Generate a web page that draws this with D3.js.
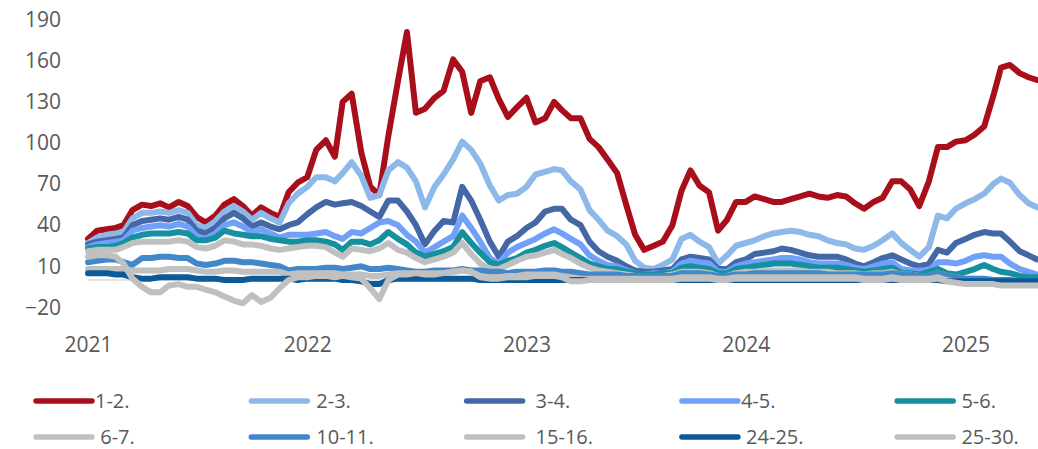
<!DOCTYPE html>
<html>
<head>
<meta charset="utf-8">
<script src="https://cdn.jsdelivr.net/npm/d3@7"></script>
<style>
  body { margin: 0; background: #fff; }
  text { font-family: "Open Sans", sans-serif; fill: #595959; }
</style>
</head>
<body>
<div id="chart"></div>
<script>

// half-month observations, Jan 2021 .. end of Apr 2025
var dates = [];
d3.utcMonth.range(new Date(Date.UTC(2021, 0, 1)), new Date(Date.UTC(2025, 4, 1))).forEach(function(m) {
  dates.push(m);
  dates.push(new Date(Date.UTC(m.getUTCFullYear(), m.getUTCMonth(), 16)));
});
dates.push(new Date(Date.UTC(2025, 3, 30)));

var s12 = [30,36,37,38,40,51,55,54,56,53, 57,54,46,42,47,55,59,54,47,53,
  49,46,64,71,75,95,102,90,130,136, 93,68,62,105,145,181,122,125,133,138,
  161,152,122,145,148,132,119,126,133,115, 118,130,124,118,118,103,97,88,78,55,
  33,22,25,28,40,65,80,69,64,36, 44,57,57,61,59,57,57,59,61,63,
  61,60,62,61,56,52,57,60,72,72, 66,54,72,97,97,101,102,106,112,134,
  155,157,151,148,146];

var s23 = [27,31,33,34,35,45,49,49,50,49, 51,49,40,38,43,50,54,50,44,49,
  45,42,56,63,68,75,75,72,78,86, 76,60,62,80,86,82,72,53,68,77,
  88,101,95,85,69,58,62,63,68,77, 79,81,80,72,66,51,44,36,32,26,
  14,9,8,11,15,30,33,28,24,12, 18,25,27,29,32,34,35,36,35,33,
  32,29,27,26,23,22,25,29,34,27, 22,17,24,47,45,52,56,59,63,70,
  74,71,62,56,53];

var s34 = [26,28,29,30,31,40,43,44,45,44, 46,44,36,34,38,45,49,45,39,42,
  39,37,40,42,48,53,57,55,56,57, 54,50,46,58,58,50,40,26,36,43,
  42,68,58,44,28,17,28,32,38,42, 50,52,52,44,40,28,21,17,14,10,
  7,6,6,7,8,15,17,16,15,8, 8,13,15,19,20,21,23,22,20,18,
  17,17,17,15,12,10,13,16,18,15, 12,10,12,22,20,27,30,33,35,34,
  34,28,21,18,15];

var s45 = [24,26,27,28,29,36,38,39,40,39, 41,39,32,30,34,40,42,39,35,37,
  34,31,33,33,33,34,35,32,30,35, 34,38,42,43,40,33,28,20,24,28,
  32,47,38,28,16,12,20,24,27,30, 34,37,34,30,26,18,14,11,10,7,
  5,4,5,5,6,12,14,13,12,6, 6,10,12,13,14,15,16,16,15,13,
  12,12,12,11,9,8,10,12,13,8, 7,7,7,13,13,12,14,17,18,17,
  17,12,8,6,4];

var s56 = [23,24,24,25,27,31,33,34,34,34, 35,34,29,29,31,36,34,33,32,32,
  30,29,28,28,29,29,28,26,22,28, 28,26,29,35,30,26,20,17,19,21,
  24,35,27,20,13,11,14,16,20,22, 25,27,24,20,16,12,10,8,8,6,
  5,4,4,5,5,9,10,9,8,5, 5,8,9,10,11,12,12,12,11,10,
  9,9,9,8,7,6,7,8,9,5, 5,4,6,8,5,4,6,8,11,8,
  6,5,3,2,2];

var s67 = [21,22,22,22,24,27,28,28,28,28, 29,28,24,23,25,29,28,26,26,25,
  23,22,23,24,25,25,24,20,17,23, 22,21,23,27,22,20,16,13,15,17,
  20,27,19,12,8,8,11,14,17,18, 20,22,19,16,12,9,7,6,5,4,
  3,3,3,3,4,6,6,6,5,3, 3,5,6,6,7,7,7,7,7,6,
  6,6,5,5,5,4,5,5,6,4, 4,3,3,5,3,2,1,1,0,0,
  -1,-1,-2,-2,-2];

var s1011 = [13,14,15,15,13,11,16,16,17,17, 16,16,12,11,12,14,14,13,13,12,
  11,10,7,8,8,8,9,9,8,9, 10,8,8,9,8,7,6,6,7,7,
  7,8,7,7,6,6,5,6,6,6, 7,7,6,6,5,4,4,4,4,3,
  3,3,3,3,3,5,5,5,4,3, 3,4,4,5,5,5,5,5,5,5,
  5,4,4,4,4,4,4,4,5,4, 4,3,3,5,3,2,1,1,1,0,
  0,0,-1,-1,-1];

var s1516 = [8,8,8,8,8,7,7,7,7,8, 8,8,7,6,6,7,7,6,6,6,
  6,6,4,5,5,5,5,5,4,4, 4,3,3,4,5,5,5,5,5,5,
  6,7,6,3,2,2,3,3,4,4, 4,4,3,2,1,1,1,1,1,1,
  1,1,1,1,1,2,2,2,2,1, 1,2,2,2,2,2,2,2,2,2,
  2,2,2,2,2,1,1,1,2,1, 1,1,1,2,0,-1,-2,-2,-2,-3,
  -3,-3,-3,-3,-3];

var s2425 = [5,5,5,4,4,2,1,1,2,2, 2,2,1,1,1,0,0,0,1,1,
  1,1,1,0,1,1,1,1,0,0, -1,-3,-3,0,1,1,1,1,1,1,
  1,1,1,0,0,0,0,0,0,0, 0,0,0,0,0,0,0,0,0,0,
  0,0,0,0,0,0,0,0,0,0, 0,0,0,0,0,0,0,0,0,0,
  0,0,0,0,0,0,0,0,0,0, 0,0,0,0,-1,-1,-1,-1,-1,-1,
  -1,-1,-1,-1,-1];

var s2530 = [17,18,18,17,12,1,-5,-9,-9,-4, -3,-5,-5,-7,-9,-12,-15,-17,-11,-16,
  -13,-6,0,2,2,3,3,2,3,2, 1,-6,-14,0,4,4,5,4,4,5,
  6,7,6,2,1,1,2,2,2,3, 3,3,2,-1,-1,0,0,0,0,0,
  0,0,0,0,0,1,1,1,1,0, 0,1,1,1,1,1,1,1,1,1,
  1,1,1,1,1,0,0,0,1,0, 0,0,0,1,-1,-2,-3,-3,-3,-3,
  -4,-4,-4,-4,-4];

var seriesNames = ["1-2.", "2-3.", "3-4.", "4-5.", " 5-6.", " 6-7.", "10-11.", "15-16.", " 24-25.", " 25-30."];
var seriesValues = [s12, s23, s34, s45, s56, s67, s1011, s1516, s2425, s2530];
var colors = ["#a90f1a", "#8db8ea", "#4468a5", "#70a0f8", "#14909e", "#c0c0c0", "#4287c9", "#c0c0c0", "#0b5a9a", "#c0c0c0"];

var yTicks = [-20, 10, 40, 70, 100, 130, 160, 190];
var yearTicks = [2021, 2022, 2023, 2024, 2025];

var width = 1038;
var height = 449;

var x = d3.scaleUtc()
  .domain([new Date(Date.UTC(2021, 0, 1)), new Date(Date.UTC(2025, 3, 30))])
  .range([88, 1037]);

var y = d3.scaleLinear()
  .domain([-20, 190])
  .range([307.4, 19.7]);

var svg = d3.select("#chart").append("svg")
  .attr("width", width)
  .attr("height", height);

// zero line
svg.append("line")
  .attr("x1", x.range()[0])
  .attr("x2", x.range()[1])
  .attr("y1", y(0))
  .attr("y2", y(0))
  .attr("stroke", "#d9d9d9")
  .attr("stroke-width", 1.5);

var yAxis = svg.append("g")
  .attr("transform", "translate(64,0)")
  .call(d3.axisLeft(y).tickValues(yTicks).tickSize(0).tickPadding(3));
yAxis.select(".domain").remove();
yAxis.selectAll("text").style("font-size", "21px").attr("fill", "#595959");

var xAxis = svg.append("g")
  .attr("transform", "translate(0,337)")
  .call(d3.axisBottom(x)
    .tickValues(yearTicks.map(function(yr) { return new Date(Date.UTC(yr, 0, 1)); }))
    .tickFormat(d3.utcFormat("%Y"))
    .tickSize(0).tickPadding(0));
xAxis.select(".domain").remove();
xAxis.selectAll("text").style("font-size", "21px").attr("fill", "#595959");

var line = d3.line()
  .x(function(d, i) { return x(dates[i]); })
  .y(function(d) { return y(d); });

svg.append("g")
  .selectAll("path")
  .data(seriesValues)
  .enter().append("path")
  .attr("d", function(d) { return line(d); })
  .attr("fill", "none")
  .attr("stroke", function(d, i) { return colors[i]; })
  .attr("stroke-width", 6)
  .attr("stroke-linejoin", "round")
  .attr("stroke-linecap", "round");

// legend, 5 columns x 2 rows
var legendCols = 5;
var colGap = [3, 9, 13, 3, 3];
var legend = svg.append("g").selectAll("g")
  .data(seriesNames)
  .enter().append("g")
  .attr("transform", function(d, i) {
    var c = i % legendCols, r = Math.floor(i / legendCols);
    return "translate(" + (36 + c * 215.3) + "," + (401 + r * 36) + ")";
  });

legend.append("line")
  .attr("x1", 0).attr("x2", 56)
  .attr("stroke", function(d, i) { return colors[i]; })
  .attr("stroke-width", 5.5)
  .attr("stroke-linecap", "round");

legend.append("text")
  .attr("x", function(d, i) { return 56 + colGap[i % legendCols]; })
  .attr("dy", "0.35em")
  .style("font-size", "20px")
  .style("white-space", "pre")
  .text(function(d) { return d; });

</script>
</body>
</html>
